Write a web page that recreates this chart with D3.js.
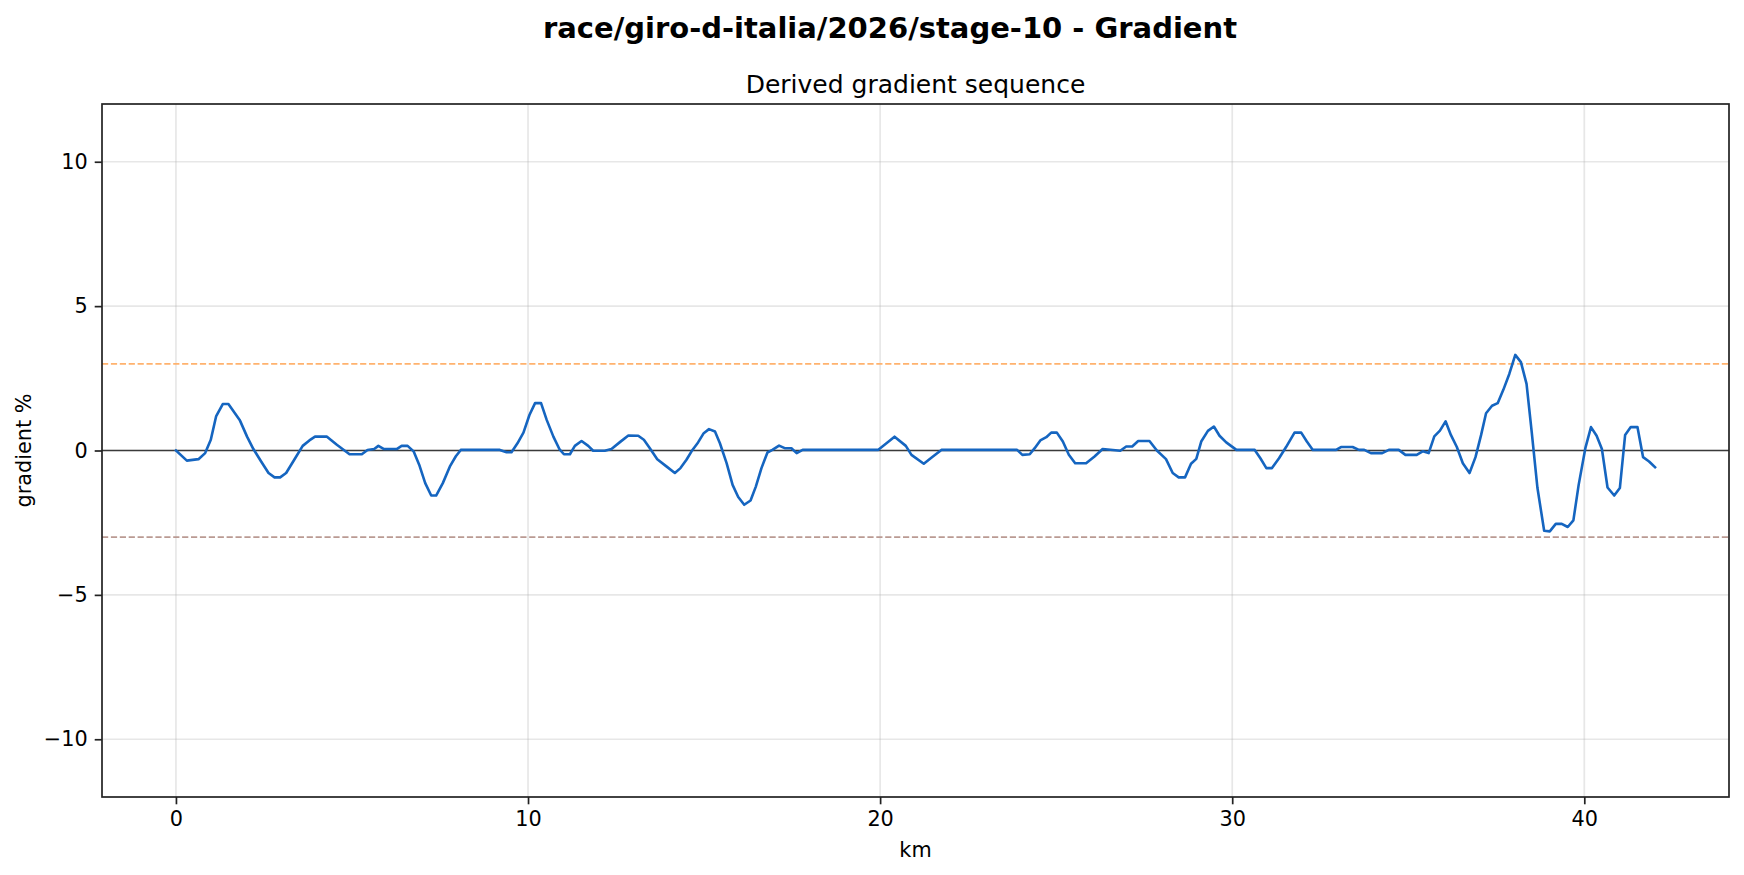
<!DOCTYPE html>
<html>
<head>
<meta charset="utf-8">
<script src="https://cdn.jsdelivr.net/npm/d3@7"></script>
<style>
  html, body { margin: 0; padding: 0; background: #fff; }
  svg { display: block; font-family: "DejaVu Sans", sans-serif; }
</style>
</head>
<body>
<svg id="chart" width="1744" height="875"></svg>
<script>
const km = [0, 0.31, 0.64, 0.83, 0.99, 1.14, 1.33, 1.49, 1.64, 1.81, 2.02, 2.20, 2.42, 2.63, 2.80, 2.96, 3.13, 3.36, 3.60, 3.79, 3.95, 4.29, 4.57, 4.93, 5.28, 5.44, 5.63, 5.75, 5.91, 6.27, 6.41, 6.58, 6.75, 6.92, 7.08, 7.25, 7.39, 7.58, 7.79, 7.95, 8.09, 9.20, 9.39, 9.53, 9.70, 9.87, 10.04, 10.20, 10.37, 10.53, 10.72, 10.89, 11.02, 11.19, 11.33, 11.52, 11.71, 11.85, 12.18, 12.37, 12.61, 12.85, 13.13, 13.29, 13.46, 13.67, 13.93, 14.17, 14.33, 14.50, 14.67, 14.83, 14.99, 15.14, 15.31, 15.45, 15.64, 15.81, 15.97, 16.14, 16.32, 16.47, 16.63, 16.80, 16.94, 17.13, 17.29, 17.48, 17.63, 17.80, 19.94, 20.18, 20.41, 20.73, 20.89, 21.24, 21.50, 21.74, 23.89, 24.04, 24.25, 24.39, 24.55, 24.72, 24.86, 25.02, 25.19, 25.36, 25.54, 25.85, 26.09, 26.32, 26.61, 26.82, 26.99, 27.16, 27.33, 27.65, 27.86, 28.12, 28.31, 28.48, 28.66, 28.83, 28.98, 29.12, 29.31, 29.48, 29.64, 29.83, 30.12, 30.64, 30.80, 30.97, 31.13, 31.33, 31.53, 31.77, 31.96, 32.12, 32.29, 32.95, 33.09, 33.42, 33.60, 33.75, 33.94, 34.26, 34.45, 34.73, 34.92, 35.24, 35.41, 35.58, 35.74, 35.90, 36.06, 36.21, 36.38, 36.55, 36.74, 36.91, 37.07, 37.21, 37.38, 37.54, 37.70, 37.87, 38.04, 38.20, 38.36, 38.51, 38.67, 38.86, 39.02, 39.19, 39.36, 39.53, 39.69, 39.84, 40.03, 40.19, 40.35, 40.50, 40.66, 40.85, 41.01, 41.16, 41.32, 41.51, 41.67, 41.84, 42.01];
const gradient = [0, -0.35, -0.30, -0.09, 0.37, 1.18, 1.61, 1.61, 1.35, 1.06, 0.48, 0.05, -0.38, -0.78, -0.93, -0.93, -0.78, -0.32, 0.16, 0.35, 0.48, 0.48, 0.20, -0.13, -0.13, 0.02, 0.05, 0.16, 0.05, 0.05, 0.16, 0.16, -0.03, -0.53, -1.13, -1.56, -1.56, -1.13, -0.53, -0.20, 0.02, 0.02, -0.06, -0.06, 0.25, 0.62, 1.23, 1.64, 1.64, 1.06, 0.48, 0.05, -0.13, -0.13, 0.16, 0.33, 0.16, -0.01, -0.01, 0.05, 0.29, 0.52, 0.51, 0.37, 0.08, -0.30, -0.55, -0.78, -0.61, -0.32, 0.02, 0.28, 0.60, 0.74, 0.66, 0.25, -0.44, -1.19, -1.61, -1.88, -1.73, -1.25, -0.61, -0.07, 0.02, 0.17, 0.08, 0.08, -0.09, 0.02, 0.02, 0.25, 0.48, 0.16, -0.15, -0.46, -0.21, 0.02, 0.02, -0.15, -0.13, 0.08, 0.35, 0.46, 0.62, 0.62, 0.31, -0.15, -0.44, -0.44, -0.21, 0.05, 0.02, -0.01, 0.14, 0.14, 0.33, 0.33, 0.00, -0.30, -0.78, -0.93, -0.93, -0.46, -0.29, 0.31, 0.68, 0.83, 0.51, 0.28, 0.02, 0.02, -0.27, -0.61, -0.61, -0.27, 0.12, 0.62, 0.62, 0.31, 0.02, 0.02, 0.12, 0.12, 0.02, 0.02, -0.09, -0.09, 0.02, 0.02, -0.15, -0.15, -0.03, -0.09, 0.49, 0.69, 1.01, 0.54, 0.12, -0.44, -0.78, -0.23, 0.54, 1.29, 1.55, 1.64, 2.10, 2.65, 3.31, 3.06, 2.31, 0.60, -1.30, -2.78, -2.80, -2.54, -2.54, -2.65, -2.42, -1.19, 0.08, 0.81, 0.51, 0.05, -1.28, -1.56, -1.30, 0.54, 0.81, 0.81, -0.23, -0.38, -0.58];
const xTicks = [0, 10, 20, 30, 40];
const yTicks = [-10, -5, 0, 5, 10];
const thresholds = [3, -3];
const thresholdColors = ["#ffb26e", "#ba9a93"];
const xDomain = [-2.1, 44.11];
const yDomain = [-12, 12];

const svg = d3.select("#chart");
const L = 102, R = 1729, T = 104, B = 797;
const x = d3.scaleLinear().domain(xDomain).range([L, R]);
const y = d3.scaleLinear().domain(yDomain).range([B, T]);

svg.append("rect").attr("width", 1744).attr("height", 875).attr("fill", "#fff");

// grid
const grid = svg.append("g");
grid.selectAll(".gx").data(xTicks).join("line")
  .attr("x1", d => x(d)).attr("x2", d => x(d)).attr("y1", T).attr("y2", B)
  .attr("stroke", "#b0b0b0").attr("stroke-opacity", 0.3).attr("stroke-width", 1.7);
grid.selectAll(".gy").data(yTicks).join("line")
  .attr("y1", d => y(d)).attr("y2", d => y(d)).attr("x1", L).attr("x2", R)
  .attr("stroke", "#b0b0b0").attr("stroke-opacity", 0.3).attr("stroke-width", 1.7);

// zero line
svg.append("line").attr("x1", L).attr("x2", R).attr("y1", y(0)).attr("y2", y(0))
  .attr("stroke", "#000").attr("stroke-opacity", 0.75).attr("stroke-width", 1.7);

// thresholds
svg.selectAll(".th").data(thresholds).join("line")
  .attr("x1", L).attr("x2", R).attr("y1", d => y(d)).attr("y2", d => y(d))
  .attr("stroke", (d, i) => thresholdColors[i]).attr("stroke-width", 1.7)
  .attr("stroke-dasharray", "6.2,2.7");

// line
const pts = km.map((k, i) => [k, gradient[i]]);
svg.append("path").datum(pts)
  .attr("d", d3.line().x(d => x(d[0])).y(d => y(d[1])))
  .attr("fill", "none").attr("stroke", "#1565c0").attr("stroke-width", 2.6)
  .attr("stroke-linejoin", "round").attr("stroke-linecap", "square");

// axes
const xAxis = d3.axisBottom(x).tickValues(xTicks).tickSize(7.3).tickPadding(7).tickFormat(d3.format("d"));
const yAxis = d3.axisLeft(y).tickValues(yTicks).tickSize(7.3).tickPadding(7)
  .tickFormat(d => d < 0 ? "\u2212" + Math.abs(d) : String(d));
const gx = svg.append("g").attr("transform", `translate(0,${B})`).call(xAxis);
const gy = svg.append("g").attr("transform", `translate(${L},0)`).call(yAxis);
[gx, gy].forEach(g => {
  g.select(".domain").remove();
  g.selectAll(".tick line").attr("stroke", "#222").attr("stroke-width", 1.7);
  g.selectAll(".tick text").attr("fill", "#000").style("font-size", "20.8px")
    .style("font-family", "DejaVu Sans, sans-serif");
});

// frame
svg.append("rect").attr("x", L).attr("y", T).attr("width", R - L).attr("height", B - T)
  .attr("fill", "none").attr("stroke", "#222").attr("stroke-width", 1.7);

// titles
svg.append("text").attr("x", 890).attr("y", 37.5).attr("text-anchor", "middle")
  .style("font-size", "29px").style("font-weight", "bold")
  .text("race/giro-d-italia/2026/stage-10 - Gradient");
svg.append("text").attr("x", (L + R) / 2).attr("y", 92.5).attr("text-anchor", "middle")
  .style("font-size", "25px").text("Derived gradient sequence");
svg.append("text").attr("x", (L + R) / 2).attr("y", 857).attr("text-anchor", "middle")
  .style("font-size", "20.8px").text("km");
svg.append("text").attr("transform", `translate(31,${(T + B) / 2}) rotate(-90)`)
  .attr("text-anchor", "middle").style("font-size", "20.8px").text("gradient %");
</script>
</body>
</html>
